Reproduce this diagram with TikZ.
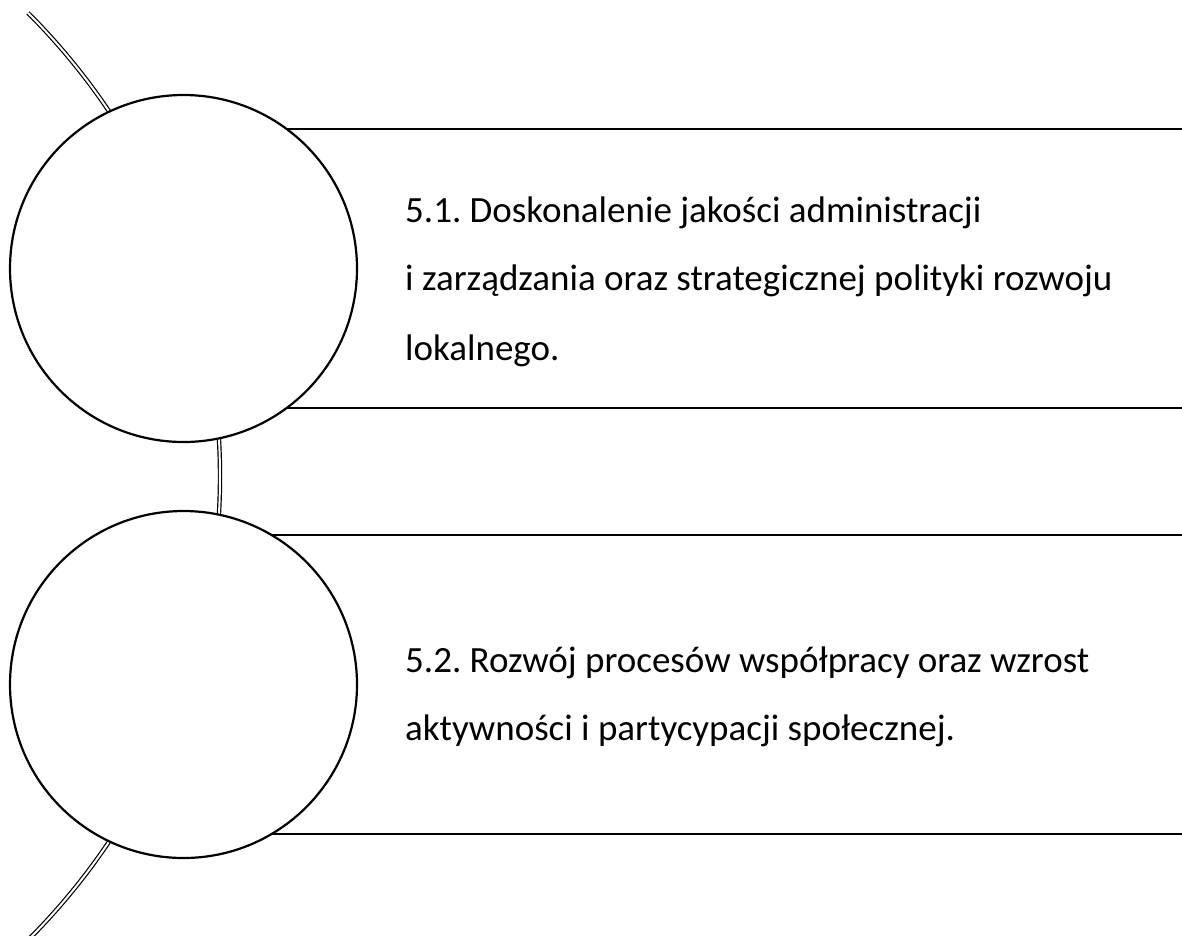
\documentclass[tikz,border=0pt]{standalone}
\usepackage{fontspec}
\setmainfont{Carlito}
\frenchspacing

\begin{document}
\begin{tikzpicture}[x=1pt, y=-1pt,
  every node/.style={inner sep=0pt},
  ring/.style={circle, draw, line width=2.2pt, fill=white, minimum size=347pt},
  rule/.style={line width=2.2pt},
  spine/.style={double, double distance=2pt, line width=1.2pt},
  label/.style={anchor=base west, font=\fontsize{37}{69}\selectfont}]
  \useasboundingbox (0,0) rectangle (1182,935);
  % spine behind the circles
  \draw[spine] (-435.7,476.5) ++(45:655.7) arc[start angle=45, end angle=-45, radius=655.7];
  % box edges
  \coordinate (a1) at (183.5,129);
  \coordinate (b1) at (1182,129);
  \coordinate (a2) at (183.5,408);
  \coordinate (b2) at (1182,408);
  \coordinate (a3) at (183.5,535);
  \coordinate (b3) at (1182,535);
  \coordinate (a4) at (183.5,834);
  \coordinate (b4) at (1182,834);
  \draw[rule] (a1) -- (b1);
  \draw[rule] (a2) -- (b2);
  \draw[rule] (a3) -- (b3);
  \draw[rule] (a4) -- (b4);
  % circles
  \node[ring] (c1) at (183.5,268.5) {};
  \node[ring] (c2) at (183.5,684.5) {};
  % texts
  \node[label] (t11) at (405,222) {5.1. Doskonalenie jakości administracji};
  \node[label] (t12) at (405,290) {i zarządzania oraz strategicznej polityki rozwoju};
  \node[label] (t13) at (405,360) {lokalnego.};
  \node[label] (t21) at (405,672) {5.2. Rozwój procesów współpracy oraz wzrost};
  \node[label] (t22) at (405,740) {aktywności i partycypacji społecznej.};
\end{tikzpicture}
\end{document}
